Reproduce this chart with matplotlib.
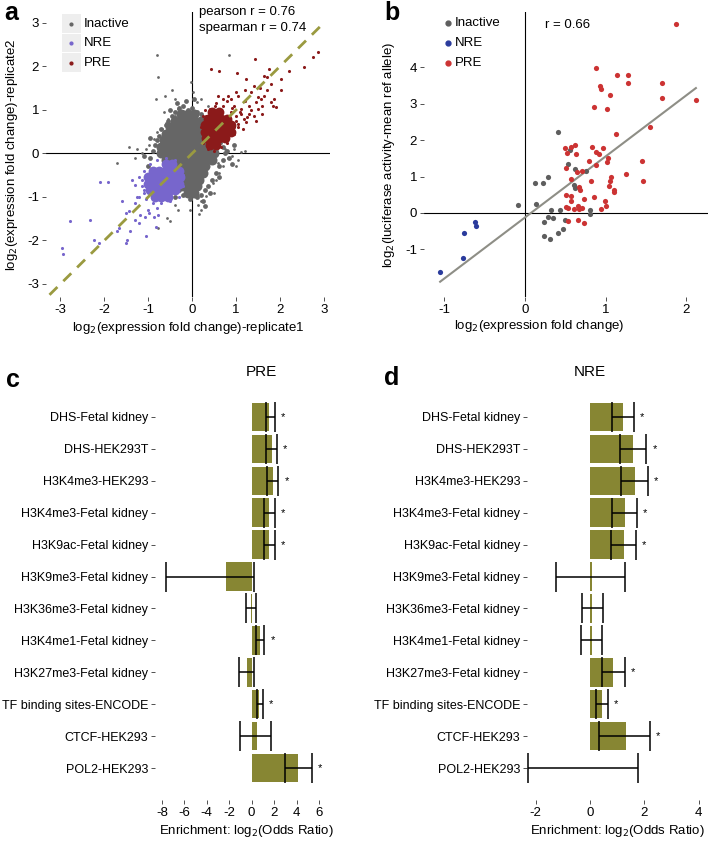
import matplotlib
matplotlib.use("Agg")
import matplotlib.pyplot as plt
import numpy as np

plt.rcParams['font.family'] = ['Liberation Sans', 'DejaVu Sans']
plt.rcParams['font.size'] = 9.5
plt.rcParams['axes.unicode_minus'] = False

W, H = 709, 844
DPI = 100

# ---------------- Panel a data ----------------
inactive_core_x = [-0.25, -0.1, 0.05,
                   -0.4, -0.25, -0.1, 0.05, 0.2,
                   -0.5, -0.35, -0.2, -0.05, 0.1, 0.25,
                   -0.6, -0.45, -0.3, -0.15, 0.0, 0.15, 0.3,
                   -0.65, -0.5, -0.35, -0.2, -0.05, 0.1, 0.25, 0.4,
                   -0.7, -0.55, -0.4, -0.25, -0.1, 0.05, 0.2, 0.35, 0.5,
                   -0.7, -0.55, -0.4, -0.25, -0.1, 0.05, 0.2, 0.35, 0.5,
                   -0.6, -0.45, -0.3, -0.15, 0.0, 0.15, 0.3, 0.45,
                   -0.45, -0.3, -0.15, 0.0, 0.15, 0.3,
                   -0.35, -0.2, -0.05, 0.1, 0.25,
                   -0.3, -0.15, 0.0, 0.15,
                   -0.2, -0.05, 0.1,
                   -0.1, 0.05]
inactive_core_y = [0.9, 0.9, 0.9,
                   0.75, 0.75, 0.75, 0.75, 0.75,
                   0.6, 0.6, 0.6, 0.6, 0.6, 0.6,
                   0.45, 0.45, 0.45, 0.45, 0.45, 0.45, 0.45,
                   0.3, 0.3, 0.3, 0.3, 0.3, 0.3, 0.3, 0.3,
                   0.15, 0.15, 0.15, 0.15, 0.15, 0.15, 0.15, 0.15, 0.15,
                   0.0, 0.0, 0.0, 0.0, 0.0, 0.0, 0.0, 0.0, 0.0,
                   -0.15, -0.15, -0.15, -0.15, -0.15, -0.15, -0.15, -0.15,
                   -0.3, -0.3, -0.3, -0.3, -0.3, -0.3,
                   -0.45, -0.45, -0.45, -0.45, -0.45,
                   -0.6, -0.6, -0.6, -0.6,
                   -0.75, -0.75, -0.75,
                   -0.9, -0.9]
inactive_fringe_x = [-1.0, -0.95, -0.9, -0.85, -0.8, -0.75, -0.7, -0.6, -0.55, -0.45,
                     -0.4, -0.3, -0.2, -0.1, 0.0, 0.1, 0.2, -0.15, 0.05, -0.35,
                     0.65, 0.7, 0.75, 0.7, 0.6, 0.55, 0.45, 0.35, 0.3, 0.2,
                     0.1, -0.05, -0.2, -0.3, -0.4, 0.8, 0.85, 0.6, 0.4, 0.25,
                     -1.1, -0.95, 0.95, 0.9, -0.5, 0.3]
inactive_fringe_y = [-0.3, -0.1, 0.05, 0.2, 0.3, 0.4, 0.55, 0.65, 0.75, 0.85,
                     0.95, 1.05, 1.1, 1.0, 1.05, 0.95, 0.9, 1.2, 1.25, 1.15,
                     0.3, 0.15, 0.0, -0.15, -0.3, -0.45, -0.6, -0.75, -0.85, -0.95,
                     -1.0, -1.05, -0.95, -0.85, -1.0, 0.05, -0.1, -0.55, -0.9, -1.1,
                     -0.05, 0.35, 0.2, -0.25, 1.0, -1.2]
inactive_x = [-0.81, 0.85, -0.77, -0.03, -0.62, -0.82, -0.39, -0.32, -0.2,
              -0.02, -0.05, 0.21, 0.32, 0.14, -0.39, -0.32, -0.51, -0.58, -0.77, 0.47,
              1.11, 0.96, 0.81, 0.59, 0.47, -1.14, -0.99, -1.71, -0.88, -0.81,
              -0.54, -0.39, -0.24, -0.69, 0.21, 0.35, 0.10, 0.02, 0.7, 0.75, 0.62,
              -0.95, -1.05, 0.55, 0.65, 0.9, 0.3, -0.6, -0.72, 0.2,
              -1.3, -1.25, 1.0, 1.2, -0.45, 0.5, -1.45, 0.15, -0.65, 1.05]
inactive_y = [2.26, 2.26, 1.75, 1.64, 1.31, 1.26, 1.26, 1.03, 0.98,
              -1.03, -1.29, -1.10, -0.99, -1.18, -1.18, -1.29, -1.56, -1.48, -1.71, -0.68,
              0.04, 0.11, -0.11, -0.23, -0.04, 0.0, 0.19, -0.23, 0.34, 0.50,
              0.80, 0.87, 0.95, 0.57, 1.26, 1.10, 1.18, 1.41, -0.3, 0.1, -0.45,
              -0.1, 0.1, -0.6, 0.25, -0.05, -0.85, 0.7, 0.2, -1.3,
              -0.1, 0.1, -0.3, 0.05, 1.45, -0.9, 0.15, -1.4, 0.95, -0.15]

nre_core_x = [-0.6, -0.45,
              -0.9, -0.75, -0.6, -0.45, -0.3,
              -1.0, -0.85, -0.7, -0.55, -0.4, -0.28,
              -1.0, -0.85, -0.7, -0.55, -0.4, -0.3,
              -0.95, -0.8, -0.65, -0.5, -0.38,
              -0.85, -0.7, -0.55]
nre_core_y = [-0.25, -0.25,
              -0.4, -0.4, -0.4, -0.4, -0.4,
              -0.55, -0.55, -0.55, -0.55, -0.55, -0.55,
              -0.7, -0.7, -0.7, -0.7, -0.7, -0.7,
              -0.85, -0.85, -0.85, -0.85, -0.85,
              -1.0, -1.0, -1.0]
nre_x = [-2.09, -1.91, -2.79, -2.33, -2.97, -2.95, -2.23, -2.13, -1.67, -1.71,
         -1.48, -1.51, -1.41, -1.60, -1.51, -1.45, -1.30, -1.18, -1.07, -0.99,
         -0.88, -0.77, -0.83, -1.05, -1.22, -1.37, -1.30, -1.14, -1.2, -1.1,
         -1.15, -1.1, -1.05, -0.9, -0.7, -0.5, -1.2, -1.1, -0.95, -0.8,
         -0.6, -0.4, -0.25, -0.2, -0.2, -0.3, -1.25, -1.3, -1.0, -0.8]
nre_y = [-0.65, -0.65, -1.56, -1.52, -2.17, -2.31, -1.98, -2.05, -1.71, -1.79,
         -1.98, -2.05, -1.79, -1.10, -1.37, -1.33, -1.52, -1.41, -1.45, -1.37,
         -1.45, -1.41, -1.70, -1.89, -1.60, -0.61, -0.72, -0.61, -1.0, -0.85,
         -0.75, -0.9, -1.05, -1.15, -1.15, -1.1, -0.55, -0.4, -0.25, -0.15,
         -0.1, -0.15, -0.35, -0.5, -0.75, -1.0, -1.0, -1.15, -1.3, -1.25]

pre_core_x = [0.45, 0.6,
              0.35, 0.5, 0.65, 0.8,
              0.3, 0.45, 0.6, 0.75, 0.88,
              0.3, 0.45, 0.6, 0.75, 0.88,
              0.32, 0.47, 0.62, 0.75,
              0.4, 0.55]
pre_core_y = [0.95, 0.95,
              0.8, 0.8, 0.8, 0.8,
              0.65, 0.65, 0.65, 0.65, 0.65,
              0.5, 0.5, 0.5, 0.5, 0.5,
              0.35, 0.35, 0.35, 0.35,
              0.2, 0.2]
pre_x = [0.42, 0.62, 1.02, 1.43, 1.75, 1.71, 1.64, 2.02, 2.2, 2.54, 2.75, 2.86,
         2.02, 1.41, 1.23, 1.87, 1.85, 1.9, 1.79, 1.64, 1.56, 1.45, 1.49, 1.34,
         1.41, 1.26, 1.19, 1.30, 1.11, 0.96, 0.89, 1.04, 0.81, 0.70, 0.59, 0.51,
         0.40, 0.32, 0.89, 1.0, 1.11, 1.23, 1.04, 0.96, 0.89,
         1.0, 1.05, 0.95, 1.1, 0.9, 0.7, 0.55, 0.3, 0.25, 0.2, 0.25, 0.35, 0.5,
         0.65, 0.8, 1.2, 1.15, 1.3, 1.5, 1.55, 1.35, 1.2, 1.0, 0.8, 1.6, 1.7,
         1.8, 1.45, 1.6]
pre_y = [1.94, 1.90, 1.85, 2.17, 1.94, 1.75, 1.79, 1.71, 1.90, 1.98, 2.21, 2.32,
         1.45, 1.56, 1.71, 1.26, 1.10, 1.07, 1.18, 1.33, 1.26, 1.18, 1.03, 0.99,
         0.87, 0.84, 0.80, 1.10, 1.03, 1.10, 1.26, 1.33, 1.33, 1.26, 1.33, 1.10,
         1.03, 0.87, 0.95, 0.87, 0.91, 0.72, 0.68, 0.61, 0.64,
         0.75, 0.6, 0.45, 0.95, 1.05, 1.1, 1.15, 1.0, 0.85, 0.6, 0.25, 0.1, 0.05,
         0.15, 0.25, 1.2, 0.55, 0.9, 1.3, 1.5, 1.4, 1.45, 1.4, 1.2, 1.1, 1.45,
         1.6, 0.75, 0.9]

diag_range = [-3.25, 3.0]

# ---------------- Panel b data ----------------
b_inactive_x = [0.41, 0.56, 0.54, 0.62, 0.755, 0.13, 0.22, 0.285, 0.61, 0.62,
                -0.09, 0.14, 0.33, 0.35, 0.29, 0.43, 0.81, 0.81, 0.50, 0.24,
                0.47, 0.41, 0.24, 0.31]
b_inactive_y = [2.21, 1.73, 1.35, 1.21, 1.16, 0.83, 0.83, 0.98, 0.78, 0.69,
                0.22, 0.25, 0.08, -0.13, -0.11, 0.08, 0.08, -0.04, -0.19, -0.26,
                -0.43, -0.56, -0.63, -0.73]
b_nre_x = [-0.62, -0.60, -0.76, -0.77, -1.05]
b_nre_y = [-0.25, -0.35, -0.55, -1.24, -1.62]
b_pre_x = [1.87, 0.886, 1.14, 1.28, 1.28, 1.70, 0.935, 0.94, 1.05, 1.70, 2.12, 0.86,
           1.02, 1.55, 1.13, 0.50, 0.575, 0.62, 0.83, 0.97, 0.52, 0.64, 0.88, 0.92,
           1.03, 0.79, 1.02, 1.45, 0.88, 0.51, 0.645, 0.71, 1.25, 1.07, 0.57, 1.47,
           0.82, 1.05, 0.665, 0.685, 1.04, 1.10, 1.11, 0.51, 0.575, 0.86, 0.57, 0.99,
           1.01, 0.51, 0.54, 0.61, 0.665, 0.71, 0.66, 0.73, 0.94, 0.54, 0.66, 0.73]
b_pre_y = [5.18, 3.98, 3.78, 3.78, 3.58, 3.57, 3.49, 3.40, 3.24, 3.15, 3.10, 2.92,
           2.86, 2.37, 2.18, 1.78, 1.82, 1.87, 1.81, 1.78, 1.64, 1.62, 1.67, 1.62,
           1.51, 1.44, 1.40, 1.42, 1.33, 1.23, 1.13, 1.14, 1.08, 1.00, 0.92, 0.89,
           0.87, 0.87, 0.72, 0.62, 0.74, 0.64, 0.57, 0.49, 0.46, 0.44, 0.33, 0.34,
           0.19, 0.16, 0.14, 0.10, 0.10, 0.13, 0.19, 0.37, 0.10, -0.22, -0.20, -0.28]
b_fit = [-1.05, 2.12, -1.89, 3.43]  # x0, x1, y0, y1

# ---------------- Panels c/d data ----------------
marks = ["DHS-Fetal kidney", "DHS-HEK293T", "H3K4me3-HEK293", "H3K4me3-Fetal kidney",
         "H3K9ac-Fetal kidney", "H3K9me3-Fetal kidney", "H3K36me3-Fetal kidney",
         "H3K4me1-Fetal kidney", "H3K27me3-Fetal kidney", "TF binding sites-ENCODE",
         "CTCF-HEK293", "POL2-HEK293"]
pre_or = [1.59, 1.80, 1.86, 1.56, 1.56, -2.25, -0.05, 0.76, -0.40, 0.64, 0.49, 4.09]
pre_lo = [1.27, 1.27, 1.36, 1.09, 1.09, -7.63, -0.46, 0.40, -1.12, 0.52, -1.03, 2.93]
pre_hi = [2.04, 2.28, 2.39, 2.04, 2.04, 0.25, 0.40, 1.14, 0.25, 1.00, 1.71, 5.40]
pre_sig = [1, 1, 1, 1, 1, 0, 0, 1, 0, 1, 0, 1]
nre_or = [1.20, 1.59, 1.64, 1.28, 1.23, 0.08, 0.07, 0.07, 0.86, 0.43, 1.31, np.nan]
nre_lo = [0.80, 1.10, 1.15, 0.82, 0.76, -1.24, -0.28, -0.33, 0.45, 0.22, 0.33, -2.27]
nre_hi = [1.62, 2.07, 2.12, 1.73, 1.68, 1.29, 0.47, 0.42, 1.28, 0.66, 2.20, 1.77]
nre_sig = [1, 1, 1, 1, 1, 0, 0, 0, 1, 1, 1, 0]

C_INACT = '#666666'
C_NRE = '#7766CC'
C_PRE = '#8B1A1A'
C_B_INACT = '#5E5E5E'
C_B_NRE = '#2A3B9C'
C_B_PRE = '#CC3333'
C_BAR = '#878633'
C_DIAG = '#9A9A40'
C_FIT = '#8E8E86'


def px_axes(fig, l, t, r, b):
    return fig.add_axes([l / W, 1 - b / H, (r - l) / W, (b - t) / H])


def style(ax, fs=9.5):
    for s in ax.spines.values():
        s.set_visible(False)
    ax.tick_params(direction='out', length=3, width=0.6, color='#333333',
                   labelsize=fs, pad=2, labelcolor='black')


fig = plt.figure(figsize=(W / DPI, H / DPI), dpi=DPI)

# ---------------- Panel a ----------------
axa = px_axes(fig, 46, 12, 330, 297)
style(axa)
axa.axhline(0, color='black', lw=0.8, zorder=1)
axa.axvline(0, color='black', lw=0.8, zorder=1)
axa.scatter(inactive_core_x, inactive_core_y, s=52, color=C_INACT, lw=0, zorder=2)
axa.scatter(inactive_fringe_x, inactive_fringe_y, s=12, color=C_INACT, lw=0, zorder=2)
axa.scatter(inactive_x, inactive_y, s=4, color=C_INACT, lw=0, zorder=2)
axa.scatter(nre_core_x, nre_core_y, s=50, color=C_NRE, lw=0, zorder=3)
axa.scatter(nre_x, nre_y, s=5, color=C_NRE, lw=0, zorder=3)
axa.scatter(pre_core_x, pre_core_y, s=50, color=C_PRE, lw=0, zorder=4)
axa.scatter(pre_x, pre_y, s=5, color=C_PRE, lw=0, zorder=4)
axa.plot(diag_range, diag_range, color=C_DIAG, lw=2, dashes=(4, 3), zorder=5)
axa.set_xlim(-3.33, 3.14)
axa.set_ylim(-3.3, 3.25)
axa.set_xticks([-3, -2, -1, 0, 1, 2, 3])
axa.set_yticks([-3, -2, -1, 0, 1, 2, 3])
axa.set_xlabel('log$_2$(expression fold change)-replicate1', labelpad=3)
axa.set_ylabel('log$_2$(expression fold change)-replicate2', labelpad=5)
fig.text(199 / W, 1 - 12 / H, 'pearson r = 0.76', ha='left', va='center', fontsize=9.5)
fig.text(199 / W, 1 - 28 / H, 'spearman r = 0.74', ha='left', va='center', fontsize=9.5)
# legend a
for i, (lab, col) in enumerate([('Inactive', C_INACT), ('NRE', C_NRE), ('PRE', C_PRE)]):
    yc = 23.7 + 19.4 * i
    fig.patches.append(plt.Rectangle((62 / W, 1 - (yc + 9.3) / H), 18.5 / W, 18.6 / H,
                                     transform=fig.transFigure, color='#EEEEEE', lw=0))
    fig.lines.append(plt.Line2D([71 / W], [1 - yc / H], marker='o', ms=2, color=col,
                                transform=fig.transFigure, lw=0))
    fig.text(84 / W, 1 - yc / H, lab, ha='left', va='center', fontsize=9.5)

# ---------------- Panel b ----------------
axb = px_axes(fig, 424, 12, 708, 297)
style(axb)
axb.axhline(0, color='black', lw=0.8, zorder=1)
axb.axvline(0, color='black', lw=0.8, zorder=1)
axb.plot(b_fit[:2], b_fit[2:], color=C_FIT, lw=1.5, zorder=2)
axb.scatter(b_inactive_x, b_inactive_y, s=14, color=C_B_INACT, lw=0, zorder=3)
axb.scatter(b_nre_x, b_nre_y, s=14, color=C_B_NRE, lw=0, zorder=3)
axb.scatter(b_pre_x, b_pre_y, s=14, color=C_B_PRE, lw=0, zorder=3)
axb.set_xlim(-1.25, 2.27)
axb.set_ylim(-2.31, 5.52)
axb.set_xticks([-1, 0, 1, 2])
axb.set_yticks([-1, 0, 1, 2, 3, 4])
axb.set_xlabel('log$_2$(expression fold change)', labelpad=3)
axb.xaxis.set_label_coords(0.405, -0.075)
axb.set_ylabel('log$_2$(luciferase activity-mean ref allele)', labelpad=6)
fig.text(545 / W, 1 - 25 / H, 'r = 0.66', ha='left', va='center', fontsize=9.5)
for i, (lab, col) in enumerate([('Inactive', C_B_INACT), ('NRE', C_B_NRE), ('PRE', C_B_PRE)]):
    yc = 23 + 20 * i
    fig.lines.append(plt.Line2D([448 / W], [1 - yc / H], marker='o', ms=3.5, color=col,
                                transform=fig.transFigure, lw=0))
    fig.text(455 / W, 1 - yc / H, lab, ha='left', va='center', fontsize=9.5)


# ---------------- Panels c / d ----------------
def bar_panel(ax, vals, lo, hi, sig, xlim, xticks, off):
    style(ax, fs=9)
    ax.tick_params(axis='x', labelsize=9.5)
    ypos = np.arange(len(marks))
    v = np.nan_to_num(np.array(vals, dtype=float))
    ax.barh(ypos, v, height=0.89, color=C_BAR, zorder=2)
    lo = np.array(lo); hi = np.array(hi)
    ax.errorbar((lo + hi) / 2, ypos, xerr=(hi - lo) / 2, fmt='none', ecolor='black',
                elinewidth=1.1, capsize=10.5, capthick=1.1, zorder=3)
    for i in range(len(marks)):
        if sig[i]:
            ax.annotate('*', (hi[i], ypos[i]), xytext=(off, 0), textcoords='offset pixels',
                        ha='left', va='center', fontsize=8)
    ax.set_yticks(ypos)
    ax.set_yticklabels(marks)
    ax.set_ylim(12.0, -1.0)
    ax.set_xlim(*xlim)
    ax.set_xticks(xticks)
    ax.set_xlabel('Enrichment: log$_2$(Odds Ratio)', labelpad=3)


axc = px_axes(fig, 155, 385, 338, 800)
bar_panel(axc, pre_or, pre_lo, pre_hi, pre_sig, (-8.62, 7.7), [-8, -6, -4, -2, 0, 2, 4, 6], 6)
axd = px_axes(fig, 527, 385, 707, 800)
bar_panel(axd, nre_or, nre_lo, nre_hi, nre_sig, (-2.32, 4.3), [-2, 0, 2, 4], 6)
fig.text(261 / W, 1 - 372 / H, 'PRE', ha='center', va='center', fontsize=11)
fig.text(590 / W, 1 - 372 / H, 'NRE', ha='center', va='center', fontsize=11)

for lab, x, y in [('a', 4, 13), ('b', 384, 13), ('c', 6, 380), ('d', 384, 378)]:
    fig.text(x / W, 1 - y / H, lab, fontsize=18, fontweight='bold', ha='left', va='center')

fig.savefig('out.png', dpi=DPI)
